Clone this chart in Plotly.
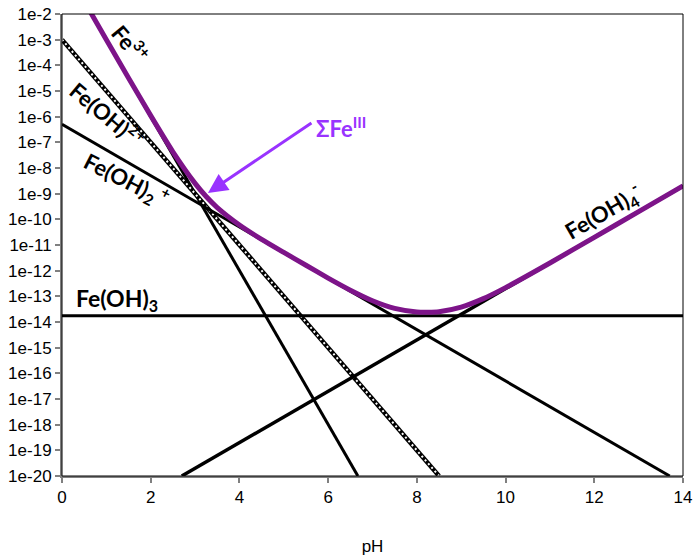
import plotly.graph_objects as go

# Species lines (endpoints): pH and log10 concentration
fe3_ph = [0.0, 6.67]
fe3_log = [0.0, -20.0]

feoh2p_ph = [0.0, 8.5]        # Fe(OH)2+
feoh2p_log = [-3.0, -20.0]

feoh2_ph = [0.0, 13.7]        # Fe(OH)2 +
feoh2_log = [-6.3, -20.0]

feoh3_ph = [0.0, 14.0]        # Fe(OH)3
feoh3_log = [-13.76, -13.76]

feoh4_ph = [2.7, 14.0]        # Fe(OH)4 -
feoh4_log = [-20.0, -8.7]

# Total Fe(III) curve
sum_ph = [0.6, 1.0, 1.5, 2.0, 2.5, 3.0, 3.25, 3.5, 4.0, 4.5, 5.0, 5.5, 6.0, 6.5,
          7.0, 7.5, 8.0, 8.25, 8.5, 9.0, 9.5, 10.0, 11.0, 12.0, 13.0, 14.0]
sum_log = [-1.8, -3.0, -4.49, -5.96, -7.37, -8.60, -9.11, -9.54, -10.22, -10.78,
           -11.29, -11.79, -12.29, -12.76, -13.17, -13.47, -13.61, -13.62, -13.60,
           -13.42, -13.09, -12.66, -11.70, -10.70, -9.70, -8.70]

yticks_exp = list(range(-2, -21, -1))
ytick_text = [f"1e{e}" for e in yticks_exp]
xticks = [0, 2, 4, 6, 8, 10, 12, 14]

def tolin(v):
    return [10 ** x for x in v]

fig = go.Figure()

fig.add_trace(go.Scatter(x=fe3_ph, y=tolin(fe3_log), mode="lines",
                         line=dict(color="black", width=3)))
fig.add_trace(go.Scatter(x=feoh2p_ph, y=tolin(feoh2p_log), mode="lines",
                         line=dict(color="black", width=4.5)))
fig.add_trace(go.Scatter(x=feoh2p_ph, y=tolin(feoh2p_log), mode="lines",
                         line=dict(color="white", width=2, dash="2px,3px")))
fig.add_trace(go.Scatter(x=feoh2_ph, y=tolin(feoh2_log), mode="lines",
                         line=dict(color="black", width=3)))
fig.add_trace(go.Scatter(x=feoh3_ph, y=tolin(feoh3_log), mode="lines",
                         line=dict(color="black", width=3)))
fig.add_trace(go.Scatter(x=feoh4_ph, y=tolin(feoh4_log), mode="lines",
                         line=dict(color="black", width=3.5)))
fig.add_trace(go.Scatter(x=sum_ph, y=tolin(sum_log), mode="lines",
                         line=dict(color="#7D1489", width=5, shape="spline", smoothing=0.6)))

FONT = "Lato, Open Sans, sans-serif"
lab_font = dict(family=FONT, size=22, color="black")

def lab(text, x, ylog, angle, font=lab_font):
    fig.add_annotation(x=x, y=ylog, text=text, showarrow=False, textangle=angle,
                       font=font, xref="x", yref="y")

lab("<b>Fe<sup>3+</sup></b>", 1.55, -3.15, 50)
lab("<b>Fe(OH)<sup>2+</sup></b>", 1.04, -5.9, 40)
lab("<b>Fe(OH)<sub>2</sub><sup> +</sup></b>", 1.45, -8.45, 27)
lab("<b>Fe(OH)<sub>3</sub></b>", 1.24, -13.14, 0, font=dict(family=FONT, size=23, color="black"))
lab("<b>Fe(OH)<sub>4</sub><sup>-</sup></b>", 12.2, -9.7, -30)
lab("<b>ΣFe<sup>III</sup></b>", 6.3, -6.44, 0,
    font=dict(family=FONT, size=22, color="#9933FF"))

# arrow pointing to the total curve
fig.add_annotation(x=3.29, y=-8.97, xref="x", yref="y", ax=105, ay=-71,
                   axref="pixel", ayref="pixel", text="", showarrow=True,
                   arrowhead=2, arrowsize=1.3, arrowwidth=3, arrowcolor="#9933FF")

# plot-area border (top/right black)
fig.add_shape(type="rect", xref="paper", yref="paper", x0=0, y0=0, x1=1, y1=1,
              line=dict(color="black", width=1), layer="above")

tick_font = dict(family="Liberation Sans, Arial", size=17, color="black")
fig.update_xaxes(range=[0, 14], tickvals=xticks, ticks="outside", ticklen=5,
                 tickcolor="#808080", tickwidth=1.5, showgrid=False, zeroline=False,
                 showline=True, linecolor="#808080", linewidth=2, automargin=False,
                 tickfont=tick_font, ticklabeloverflow="allow",
                 title=dict(text="pH", font=dict(family="Liberation Sans, Arial", size=17,
                                                 color="black"), standoff=34))
fig.update_yaxes(type="log", range=[-20, -2], tickvals=tolin(yticks_exp),
                 ticktext=ytick_text, ticks="outside", ticklen=5, tickcolor="#808080",
                 tickwidth=1.5, showgrid=False, zeroline=False, showline=True,
                 linecolor="#808080", linewidth=2, automargin=False,
                 tickfont=tick_font, ticklabeloverflow="allow")

fig.update_layout(width=694, height=556, showlegend=False,
                  margin=dict(l=62, r=11, t=14, b=80),
                  paper_bgcolor="white", plot_bgcolor="white")

# remove the page's default body margin so the figure fills the window exactly
fig.write_html("out.html", config={"displayModeBar": False},
               post_script="document.body.style.margin='0';document.body.style.overflow='hidden';")
